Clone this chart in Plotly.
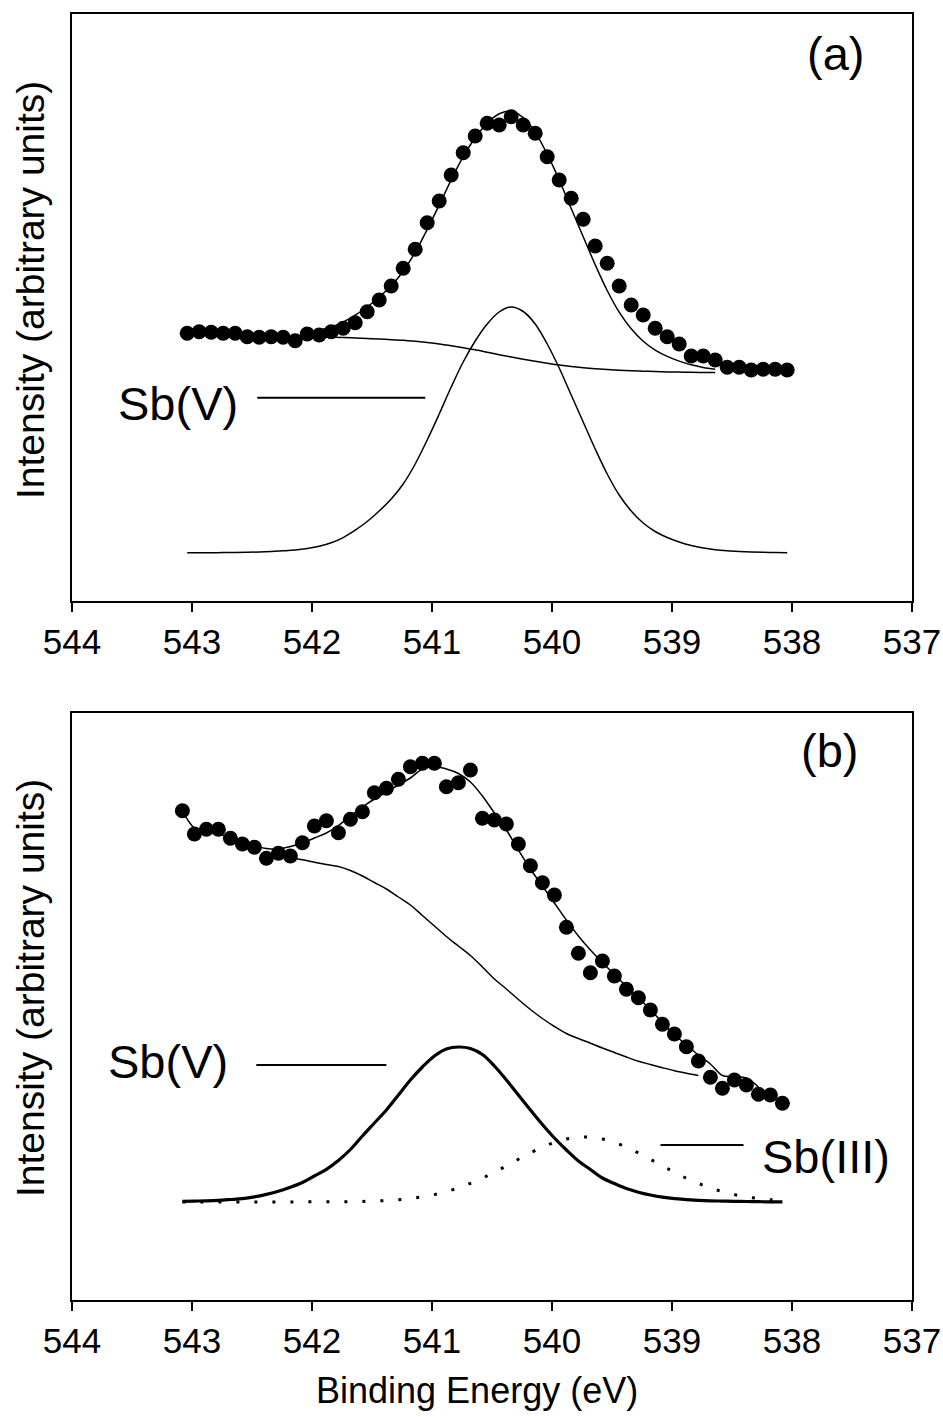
import plotly.graph_objects as go

# ---------------- data ----------------
# Panel (a): binding energies (eV) of the measured points
energy_a = [543.04, 542.94, 542.84, 542.74, 542.64, 542.54, 542.44, 542.34, 542.24, 542.14,
            542.04, 541.94, 541.84, 541.74, 541.64, 541.54, 541.44, 541.34, 541.24, 541.14,
            541.04, 540.94, 540.84, 540.74, 540.64, 540.54, 540.44, 540.34, 540.24, 540.14,
            540.04, 539.94, 539.84, 539.74, 539.64, 539.54, 539.44, 539.34, 539.24, 539.14,
            539.04, 538.94, 538.84, 538.74, 538.64, 538.54, 538.44, 538.34, 538.24, 538.14,
            538.04]
data_a = [267.7, 269.3, 268.7, 267.7, 267.7, 264.3, 263.7, 264.3, 263.7, 260.3,
          267, 266, 269.3, 272.7, 278.3, 289.3, 301, 315, 332.7, 351.7,
          378.3, 400, 426, 448.3, 465, 477.7, 476, 484.3, 476, 467.7,
          444.3, 421, 402.7, 381.7, 355, 337.7, 315, 296, 286, 272.7,
          264.3, 257, 245, 245, 241, 233.7, 233.7, 231, 231.7, 231.7,
          231]
sbv_a = [48.2, 48.2, 48.3, 48.4, 48.5, 48.7, 49.0, 49.5, 50.2, 51.1,
         52.6, 54.8, 58.2, 63.4, 70.8, 79.5, 90, 102, 117, 137,
         161, 187, 214, 239, 260, 277, 289, 294, 289.5, 277,
         257, 233, 206, 179, 152, 127, 106, 90, 78, 69.5,
         63.5, 59, 55.5, 53, 51.3, 50.2, 49.5, 49, 48.7, 48.5,
         48.3]
# envelope and background cover points 11..44 of the energy list
fit_a = [270.8, 274, 278.9, 285.8, 294, 304, 315.3, 329.8, 348.8, 371.5,
         396, 421.2, 444.3, 463.2, 477.8, 487.3, 490, 483.3, 468.7, 446.8,
         421, 392.5, 364.3, 336.3, 310.5, 288.8, 272.2, 259.8, 250.9, 244.6,
         239.9, 236.2, 233.6, 231.8]
bg_a = [264, 263.8, 263.5, 263, 262.5, 262, 261.3, 260.8, 259.8, 258.5,
        257, 255.2, 253.3, 251.2, 248.8, 246.3, 244, 241.8, 239.7, 237.8,
        236, 234.5, 233.3, 232.3, 231.5, 230.8, 230.2, 229.8, 229.4, 229.1,
        228.9, 228.7, 228.6, 228.5]

# Panel (b)
energy_b = [543.08, 542.98, 542.88, 542.78, 542.68, 542.58, 542.48, 542.38, 542.28, 542.18,
            542.08, 541.98, 541.88, 541.78, 541.68, 541.58, 541.48, 541.38, 541.28, 541.18,
            541.08, 540.98, 540.88, 540.78, 540.68, 540.58, 540.48, 540.38, 540.28, 540.18,
            540.08, 539.98, 539.88, 539.78, 539.68, 539.58, 539.48, 539.38, 539.28, 539.18,
            539.08, 538.98, 538.88, 538.78, 538.68, 538.58, 538.48, 538.38, 538.28, 538.18,
            538.08]
data_b = [489.3, 466, 470.7, 470.7, 461.7, 456, 452.7, 441.7, 446.7, 444,
          457.3, 474, 479.3, 467.3, 480.7, 488.3, 507.3, 511.7, 520.7, 533.3,
          536.7, 536.7, 513.3, 517.3, 530, 481.7, 480, 476, 456, 434.3,
          417.3, 405, 372.7, 346.7, 327.3, 339, 324, 310.7, 302.3, 290,
          275.7, 266, 253.3, 239, 222.7, 211.7, 220, 215, 205.7, 205,
          196.7]
sbv_b = [98.6, 98.9, 99.2, 99.7, 100.5, 101.4, 103.1, 105.6, 108.7, 112.7,
         117.5, 124, 130.7, 139.5, 150.5, 164, 177, 190, 205, 220,
         233, 244, 251, 253, 251.5, 245.5, 234, 220, 205, 190,
         175.5, 162, 150, 139, 130.5, 122, 116.5, 111.5, 107.8, 105,
         102.8, 101.3, 100.4, 99.7, 99.2, 98.9, 98.6, 98.5, 98.3, 98.2,
         98.1]
sbiii_b = [98.0, 98.0, 98.0, 98.0, 98.0, 98.0, 98.0, 98.0, 98.0, 98.1,
           98.1, 98.2, 98.3, 98.2, 98.3, 98.6, 98.9, 99.5, 100.3, 101.5,
           103.2, 105.4, 108.4, 112.1, 116.6, 121.8, 127.8, 134.1, 140.7, 147.1,
           152.8, 157.6, 161, 162.8, 162.8, 161, 157.6, 152.8, 147.1, 140.7,
           134.1, 127.8, 121.8, 116.6, 112.1, 108.4, 105.4, 103.2, 101.5, 100.3,
           99.5]
# envelope covers points 0..48, background points 8..43
fit_b = [489.3, 472, 469, 466, 462, 458, 454.5, 451.5, 451, 453.5,
         457, 462, 467, 474.5, 484, 493, 501, 508, 515, 522,
         531, 533.5, 531, 526.5, 518, 504, 487, 470, 450, 431,
         414, 397, 380, 364, 350, 337.5, 325.5, 313.5, 302, 290.5,
         277.5, 265.5, 255, 245, 236, 224.5, 223.5, 222, 213]
bg_b = [443, 442, 440.3, 437.8, 435.5, 433.5, 429.5, 424, 417.5, 411,
        403, 395, 384.5, 374, 363.5, 354, 344.5, 333, 321, 311,
        300.5, 290.5, 281.5, 273.5, 266.5, 261.5, 256.8, 252, 247.5, 243,
        238.8, 235.5, 232.3, 229.3, 226.8, 224.5]

tick_vals = [544, 543, 542, 541, 540, 539, 538, 537]
tick_text = ["544", "543", "542", "541", "540", "539", "538", "537"]

# label annotations: (text, x, y, xanchor, axis)
labels = [
    ("(a)", 537.64, 548, "center", 1),
    ("Sb(V)", 542.60, 198, "right", 1),
    ("(b)", 537.69, 549, "center", 2),
    ("Sb(V)", 542.68, 239, "right", 2),
    ("Sb(III)", 538.27, 144, "left", 2),
]
# leader lines: (x0, x1, y, axis)
leaders = [
    (542.456, 541.056, 203.3, 1),
    (542.464, 541.38, 235, 2),
    (539.096, 538.404, 155, 2),
]

FONT = "Liberation Sans, Arial, sans-serif"
BLACK = "#000000"

fig = go.Figure()

# ---- panel (a) ----
fig.add_trace(go.Scatter(x=energy_a, y=sbv_a, mode="lines", xaxis="x", yaxis="y",
                         line=dict(color=BLACK, width=1.5, shape="spline"), showlegend=False))
fig.add_trace(go.Scatter(x=energy_a[11:45], y=bg_a, mode="lines", xaxis="x", yaxis="y",
                         line=dict(color=BLACK, width=1.5, shape="spline"), showlegend=False))
fig.add_trace(go.Scatter(x=energy_a[11:45], y=fit_a, mode="lines", xaxis="x", yaxis="y",
                         line=dict(color=BLACK, width=1.5, shape="spline"), showlegend=False))
fig.add_trace(go.Scatter(x=energy_a, y=data_a, mode="markers", xaxis="x", yaxis="y",
                         marker=dict(color=BLACK, size=15, line=dict(width=0)), showlegend=False))

# ---- panel (b) ----
fig.add_trace(go.Scatter(x=energy_b, y=sbiii_b, mode="lines", xaxis="x2", yaxis="y2",
                         line=dict(color=BLACK, width=3, dash="3px,15px", shape="spline"),
                         showlegend=False))
fig.add_trace(go.Scatter(x=energy_b, y=sbv_b, mode="lines", xaxis="x2", yaxis="y2",
                         line=dict(color=BLACK, width=3.2, shape="spline"), showlegend=False))
fig.add_trace(go.Scatter(x=energy_b[8:44], y=bg_b, mode="lines", xaxis="x2", yaxis="y2",
                         line=dict(color=BLACK, width=1.5, shape="spline"), showlegend=False))
fig.add_trace(go.Scatter(x=energy_b[0:49], y=fit_b, mode="lines", xaxis="x2", yaxis="y2",
                         line=dict(color=BLACK, width=1.5, shape="spline"), showlegend=False))
fig.add_trace(go.Scatter(x=energy_b, y=data_b, mode="markers", xaxis="x2", yaxis="y2",
                         marker=dict(color=BLACK, size=15, line=dict(width=0)), showlegend=False))

xaxis_common = dict(range=[544, 537], tickmode="array", tickvals=tick_vals, ticktext=tick_text,
                    ticks="outside", ticklen=9, tickwidth=1.5, tickcolor=BLACK,
                    showline=True, linecolor=BLACK, linewidth=1.5, mirror=True,
                    showgrid=False, zeroline=False, automargin=False,
                    tickfont=dict(family=FONT, size=35, color=BLACK))
yaxis_common = dict(range=[0, 587], showline=True, linecolor=BLACK, linewidth=1.5, mirror=True,
                    showgrid=False, zeroline=False, showticklabels=False, ticks="",
                    automargin=False)

split_top = (1300 - 601) / 1286
split_bot = (1300 - 713) / 1286

fig.update_layout(
    width=943, height=1417, autosize=False,
    margin=dict(l=72, r=31, t=14, b=117),
    paper_bgcolor="white", plot_bgcolor="white",
    font=dict(family=FONT, color=BLACK),
    xaxis=dict(domain=[0, 1], anchor="y", **xaxis_common),
    yaxis=dict(domain=[split_top, 1], anchor="x", **yaxis_common),
    xaxis2=dict(domain=[0, 1], anchor="y2", **xaxis_common),
    yaxis2=dict(domain=[0, split_bot], anchor="x2", **yaxis_common),
)

annotations = []
for text, x, y, xa, ax in labels:
    sfx = "" if ax == 1 else "2"
    annotations.append(dict(text=text, x=x, y=y, xref="x" + sfx, yref="y" + sfx,
                            xanchor=xa, yanchor="middle", showarrow=False,
                            font=dict(family=FONT, size=47, color=BLACK)))
# axis titles
for ycen in [(1300 - 290) / 1286, (1300 - 988) / 1286]:
    annotations.append(dict(text="Intensity (arbitrary units)", x=(30 - 72) / 840, y=ycen,
                            xref="paper", yref="paper", xanchor="center", yanchor="middle",
                            textangle=-90, showarrow=False,
                            font=dict(family=FONT, size=39, color=BLACK)))
annotations.append(dict(text="Binding Energy (eV)", x=(476.5 - 72) / 840, y=(1300 - 1390) / 1286,
                        xref="paper", yref="paper", xanchor="center", yanchor="middle",
                        showarrow=False, font=dict(family=FONT, size=36, color=BLACK)))
fig.update_layout(annotations=annotations)

shapes = []
for x0, x1, y, ax in leaders:
    sfx = "" if ax == 1 else "2"
    shapes.append(dict(type="line", x0=x0, x1=x1, y0=y, y1=y, xref="x" + sfx, yref="y" + sfx,
                       line=dict(color=BLACK, width=2)))
fig.update_layout(shapes=shapes)

fig.write_html("out.html")
